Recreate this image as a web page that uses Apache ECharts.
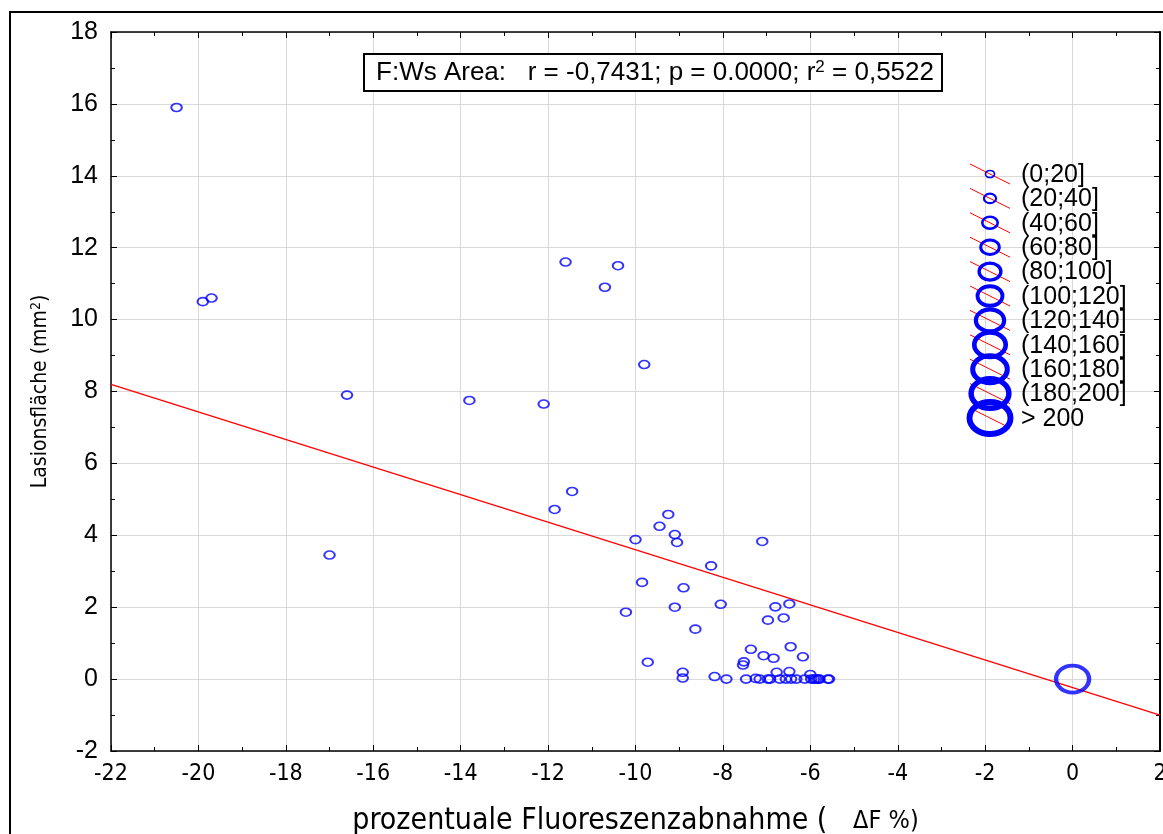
<!DOCTYPE html>
<html>
<head>
<meta charset="utf-8">
<script src="https://cdn.jsdelivr.net/npm/echarts@6/dist/echarts.min.js"></script>
<style>
html,body{margin:0;padding:0;background:#fff;overflow:hidden;width:1163px;height:834px;}
#chart{width:1163px;height:834px;display:block;}
</style>
</head>
<body>
<div id="chart"></div>
<script>
// ---- data ----
var xTicks = [-22,-20,-18,-16,-14,-12,-10,-8,-6,-4,-2,0,2];
var yTicks = [-2,0,2,4,6,8,10,12,14,16,18];
var pointsSmall = [
  [-20.5,15.9],[-19.9,10.5],[-19.7,10.6],[-16.6,7.9],[-17.0,3.45],[-13.8,7.75],[-12.1,7.65],
  [-11.6,11.6],[-10.4,11.5],[-10.7,10.9],[-9.8,8.75],
  [-11.45,5.22],[-11.85,4.72],[-10.0,3.88],[-9.25,4.58],[-9.45,4.25],[-9.1,4.02],[-9.05,3.8],
  [-8.27,3.15],[-7.1,3.83],
  [-9.85,2.69],[-8.9,2.54],[-10.22,1.86],[-9.1,2.0],[-8.05,2.08],[-8.63,1.39],[-6.8,2.01],
  [-6.48,2.09],[-6.97,1.64],[-6.61,1.7],
  [-9.72,0.47],[-8.92,0.19],[-8.92,0.03],[-8.19,0.07],[-7.92,0.0],
  [-7.36,0.83],[-6.45,0.9],[-7.07,0.65],[-6.84,0.58],[-6.17,0.62],[-7.52,0.48],[-7.54,0.39],
  [-7.47,0],[-7.25,0.02],[-7.16,0],[-6.97,0],[-6.92,0],[-6.77,0.19],[-6.7,0],[-6.56,0],
  [-6.48,0.21],[-6.44,0],[-6.32,0],[-6.13,0],[-6.0,0.13],[-5.98,0],[-5.92,0],[-5.87,0],
  [-5.82,0],[-5.79,0],[-5.6,0],[-5.57,0]
];
var pointsLarge = [[0,0]];
var regression = [[-22,8.2],[2,-1.0]];
var legendLabels = ['(0;20]','(20;40]','(40;60]','(60;80]','(80;100]','(100;120]','(120;140]','(140;160]','(160;180]','(180;200]','> 200'];
var annotationText = 'F:Ws Area:   r = -0,7431; p = 0.0000; r{sup|2} = 0,5522';

// ---- chart ----
var font = 'Liberation Sans, Arial, sans-serif';
var narrow = '"Liberation Sans Narrow", "Arial Narrow", "DejaVu Sans Condensed", sans-serif';
var chart = echarts.init(document.getElementById('chart'), null, {renderer:'canvas', width:1163, height:834});

var legendGraphics = [];
var lx = 990, ly0 = 174, lstep = 24.4;
for (var i = 0; i < legendLabels.length; i++) {
  var cy = ly0 + i * lstep;
  var w = 9 + i * 3.2, h = 7 + i * 2.5, bw = 1.7 + i * 0.42;
  legendGraphics.push({
    type:'line', silent:true, z:10,
    shape:{x1:lx-20, y1:cy-10, x2:lx+20, y2:cy+10},
    style:{stroke:'#ff0000', lineWidth:1}
  });
  legendGraphics.push({
    type:'ellipse', silent:true, z:11,
    shape:{cx:lx, cy:cy, rx:w/2, ry:h/2},
    style:{fill:null, stroke:'#0000ff', lineWidth:bw}
  });
  legendGraphics.push({
    type:'text', silent:true, z:11,
    x:1021, y:cy + 1,
    style:{text:legendLabels[i], fill:'#000', font:'25px ' + font, verticalAlign:'middle', align:'left'}
  });
}

var option = {
  animation:false,
  backgroundColor:'#fff',
  grid:{left:111, right:3, top:32, bottom:83, containLabel:false, outerBoundsMode:'none'},
  xAxis:[{
    type:'value', min:-22, max:2, interval:2,
    axisLine:{show:true, onZero:false, lineStyle:{color:'#000', width:1.5}},
    axisTick:{show:true, inside:true, length:6, lineStyle:{color:'#000'}},
    minorTick:{show:true, splitNumber:2, length:4, lineStyle:{color:'#000'}},
    splitLine:{show:true, lineStyle:{color:'#d9d9d9', width:1}},
    axisLabel:{color:'#000', fontSize:23, fontFamily:narrow, margin:12,
      formatter:function(v){return xTicks.indexOf(v)>=0 ? String(v) : '';}},
    name:'prozentuale Fluoreszenzabnahme (   {s|ΔF %)}',
    nameLocation:'middle', nameGap:55,
    nameTextStyle:{color:'#000', fontSize:30, fontFamily:narrow,
      rich:{s:{fontSize:25, fontFamily:narrow, color:'#000'}}}
  },{
    type:'value', position:'top', min:-22, max:2, interval:2,
    axisLine:{show:true, onZero:false, lineStyle:{color:'#000', width:1.5}},
    axisTick:{show:true, inside:true, length:6, lineStyle:{color:'#000'}},
    minorTick:{show:true, splitNumber:2, length:4, lineStyle:{color:'#000'}},
    splitLine:{show:false}, axisLabel:{show:false}
  }],
  yAxis:[{
    type:'value', min:-2, max:18, interval:2,
    axisLine:{show:true, onZero:false, lineStyle:{color:'#000', width:1.5}},
    axisTick:{show:true, inside:true, length:6, lineStyle:{color:'#000'}},
    minorTick:{show:true, splitNumber:2, length:4, lineStyle:{color:'#000'}},
    splitLine:{show:true, lineStyle:{color:'#d9d9d9', width:1}},
    axisLabel:{color:'#000', fontSize:25, fontFamily:font, margin:13,
      formatter:function(v){return yTicks.indexOf(v)>=0 ? String(v) : '';}},
    name:'Lasionsfläche (mm{sup|2})',
    nameLocation:'middle', nameGap:59, nameRotate:90,
    nameTextStyle:{color:'#000', fontSize:21, fontFamily:narrow,
      rich:{sup:{fontSize:14, verticalAlign:'top', padding:[0,0,9,0], color:'#000', fontFamily:narrow}}}
  },{
    type:'value', position:'right', min:-2, max:18, interval:2,
    axisLine:{show:true, onZero:false, lineStyle:{color:'#000', width:2}},
    axisTick:{show:true, inside:true, length:6, lineStyle:{color:'#000'}},
    minorTick:{show:true, splitNumber:2, length:4, lineStyle:{color:'#000'}},
    splitLine:{show:false}, axisLabel:{show:false}
  }],
  series:[
    {
      type:'line', data:regression, showSymbol:false, symbol:'none',
      lineStyle:{color:'#ff0000', width:1.3}, z:2, silent:true
    },
    {
      type:'scatter', data:pointsSmall, symbol:'circle', symbolSize:[10.5,8],
      itemStyle:{color:'rgba(0,0,0,0)', borderColor:'#0000ff', borderWidth:1.8}, z:3, silent:true
    },
    {
      type:'scatter', data:pointsLarge, symbol:'circle', symbolSize:[33,27],
      itemStyle:{color:'rgba(0,0,0,0)', borderColor:'#0000ff', borderWidth:4}, z:3, silent:true
    }
  ],
  graphic:[
    {type:'rect', silent:true, z:0, shape:{x:10, y:12, width:1170, height:850},
      style:{fill:null, stroke:'#000', lineWidth:2}},
    {type:'rect', silent:true, z:12, shape:{x:364, y:54, width:578, height:37},
      style:{fill:'#fff', stroke:'#000', lineWidth:2}},
    {type:'text', silent:true, z:13, x:655, y:73,
      style:{text:annotationText, fill:'#000', font:'26px ' + font, align:'center', verticalAlign:'middle',
        rich:{sup:{fontSize:17, verticalAlign:'top', padding:[0,0,11,0], fill:'#000', fontFamily:font}}}}
  ].concat(legendGraphics)
};
chart.setOption(option);
</script>
</body>
</html>
